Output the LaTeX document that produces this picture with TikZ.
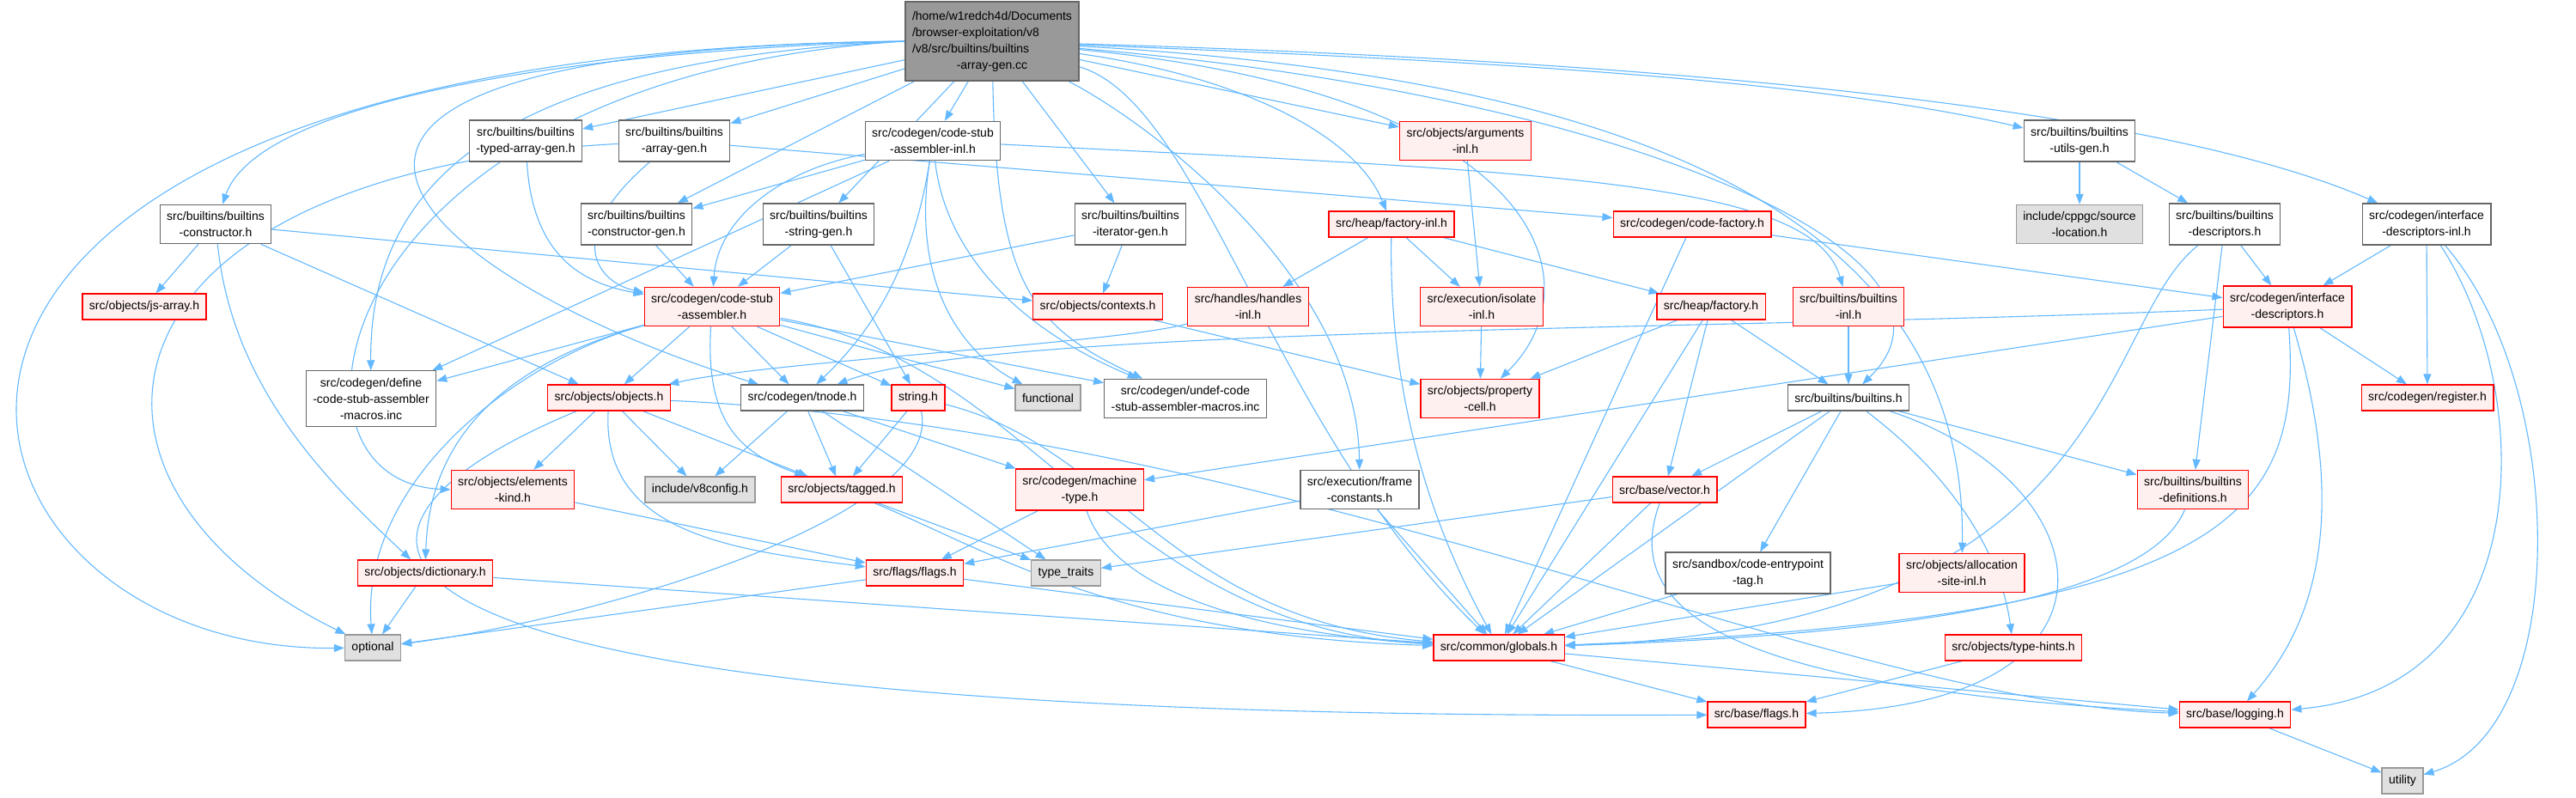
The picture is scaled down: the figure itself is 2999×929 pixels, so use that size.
\documentclass[tikz,border=0pt]{standalone}
\usepackage{fontspec}
\setsansfont{Liberation Sans}
\usetikzlibrary{arrows.meta}
\definecolor{incblue}{HTML}{63B8FF}
\definecolor{redfill}{HTML}{FFF0F0}
\pgfdeclarelayer{edges}
\pgfsetlayers{edges,main}
\begin{document}
\begin{tikzpicture}[x=1pt,y=1pt,>={Triangle[length=12pt,width=9pt]},every node/.style={font=\sffamily\fontsize{14}{19}\selectfont},hdr/.style={draw=black!60,fill=white,line width=1.2pt,inner xsep=8pt,inner ysep=8pt,minimum height=30pt,align=center},redhdr/.style={hdr,draw=red,fill=redfill},syshdr/.style={hdr,draw=black!40,fill=black!12},root/.style={hdr,draw=black!60,fill=black!40},inc/.style={->,draw=incblue,line width=1.1pt}]
\useasboundingbox (0,0) rectangle (2999,-929);
\node[root] (cc) at (1155,-48) {\begin{tabular}{@{}l@{}}/home/w1redch4d/Documents\\/browser-exploitation/v8\\/v8/src/builtins/builtins\\\multicolumn{1}{@{}c@{}}{-array-gen.cc}\end{tabular}};
% row 2
\node[hdr] (tag) at (612,-164) {src/builtins/builtins\\-typed-array-gen.h};\node[hdr] (ag) at (785,-164) {src/builtins/builtins\\-array-gen.h};\node[hdr] (csainl) at (1086,-164) {src/codegen/code-stub\\-assembler-inl.h};\node[redhdr] (args) at (1706,-164) {src/objects/arguments\\-inl.h};\node[hdr] (ug) at (2421,-164) {src/builtins/builtins\\-utils-gen.h};
% row 3
\node[hdr] (ctor) at (251,-261) {src/builtins/builtins\\-constructor.h};\node[hdr] (ctorgen) at (741,-261) {src/builtins/builtins\\-constructor-gen.h};\node[hdr] (sg) at (953,-261) {src/builtins/builtins\\-string-gen.h};\node[hdr] (ig) at (1316,-261) {src/builtins/builtins\\-iterator-gen.h};\node[redhdr] (finl) at (1620,-261) {src/heap/factory-inl.h};\node[redhdr] (cf) at (1970,-261) {src/codegen/code-factory.h};\node[syshdr] (srcloc) at (2421,-261) {include/cppgc/source\\-location.h};\node[hdr] (bdesc) at (2590,-261) {src/builtins/builtins\\-descriptors.h};\node[hdr] (idinl) at (2825,-261) {src/codegen/interface\\-descriptors-inl.h};
% row 4
\node[redhdr] (jsarr) at (168,-357) {src/objects/js-array.h};\node[redhdr] (csa) at (829,-357) {src/codegen/code-stub\\-assembler.h};\node[redhdr] (ctx) at (1278,-357) {src/objects/contexts.h};\node[redhdr] (hinl) at (1453,-357) {src/handles/handles\\-inl.h};\node[redhdr] (iinl) at (1725,-357) {src/execution/isolate\\-inl.h};\node[redhdr] (hf) at (1992,-357) {src/heap/factory.h};\node[redhdr] (binl) at (2152,-357) {src/builtins/builtins\\-inl.h};\node[redhdr] (idesc) at (2663,-357) {src/codegen/interface\\-descriptors.h};
% row 5
\node[hdr] (defm) at (432,-464) {src/codegen/define\\-code-stub-assembler\\-macros.inc};\node[redhdr] (obj) at (709,-463) {src/objects/objects.h};\node[hdr] (tnode) at (934,-463) {src/codegen/tnode.h};\node[redhdr] (str) at (1069,-463) {string.h};\node[syshdr] (func) at (1220,-463) {functional};\node[hdr] (undefm) at (1380,-464) {src/codegen/undef-code\\-stub-assembler-macros.inc};\node[redhdr] (pcell) at (1723,-464) {src/objects/property\\-cell.h};\node[hdr] (bh) at (2152,-463) {src/builtins/builtins.h};\node[redhdr] (reg) at (2826,-463) {src/codegen/register.h};
% row 6
\node[redhdr] (ek) at (597,-570) {src/objects/elements\\-kind.h};\node[syshdr] (v8c) at (815,-570) {include/v8config.h};\node[redhdr] (tagged) at (980,-570) {src/objects/tagged.h};\node[redhdr] (mt) at (1257,-570) {src/codegen/machine\\-type.h};\node[hdr] (fc) at (1583,-570) {src/execution/frame\\-constants.h};\node[redhdr] (vec) at (1938,-570) {src/base/vector.h};\node[redhdr] (bdef) at (2553,-570) {src/builtins/builtins\\-definitions.h};
% rows 7-10
\node[redhdr] (dict) at (495,-667) {src/objects/dictionary.h};\node[redhdr] (flags) at (1065,-667) {src/flags/flags.h};\node[syshdr] (tt) at (1241,-667) {type\_traits};\node[hdr] (cet) at (2035,-667) {src/sandbox/code-entrypoint\\-tag.h};\node[redhdr] (asi) at (2284,-667) {src/objects/allocation\\-site-inl.h};
\node[syshdr] (opt) at (434,-754) {optional};\node[redhdr] (glob) at (1745,-754) {src/common/globals.h};\node[redhdr] (ths) at (2344,-754) {src/objects/type-hints.h};
\node[redhdr] (bflags) at (2045,-832) {src/base/flags.h};\node[redhdr] (log) at (2602,-832) {src/base/logging.h};\node[syshdr] (util) at (2797,-909) {utility};
\begin{pgfonlayer}{edges}
% includes of the .cc file
\draw[inc] (cc) -- (tag);\draw[inc] (cc) -- (ag);\draw[inc] (cc) -- (csainl);\draw[inc] (cc) -- (args);\draw[inc] (cc) -- (ctorgen);\draw[inc] (cc) -- (sg);\draw[inc] (cc) -- (ig);
\draw[inc] (cc) .. controls (1700,-70) and (2100,-90) .. (ug);\draw[inc] (cc) .. controls (1900,-70) and (2500,-120) .. (idinl);\draw[inc] (cc) .. controls (1450,-90) and (1580,-160) .. (finl);
\draw[inc] (cc.west) .. controls (650,-60) and (300,-120) .. (ctor);\draw[inc] (cc.west) .. controls (600,-70) and (430,-200) .. (defm);\draw[inc] (cc.west) .. controls (-300,-60) and (-100,-760) .. (opt);
\draw[inc] (cc) .. controls (1160,-330) and (1200,-380) .. (undefm);\draw[inc] (cc.west) .. controls (150,-60) and (500,-330) .. (tnode);\draw[inc] (cc.west) .. controls (380,-90) and (300,-560) .. (ek.west);
\draw[inc] (cc) .. controls (1900,-110) and (2320,-300) .. (bh);\draw[inc] (cc) .. controls (1800,-110) and (1860,-330) .. (pcell);\draw[inc] (cc) .. controls (1900,-90) and (2290,-250) .. (asi);
\draw[inc] (cc) .. controls (1350,-150) and (1580,-330) .. (fc);\draw[inc] (cc) .. controls (1400,-120) and (1480,-500) .. (glob);
% builtins headers
\draw[inc] (tag) .. controls (620,-300) and (680,-330) .. (csa);\draw[inc] (ag) .. controls (650,-280) and (700,-330) .. (csa);\draw[inc] (ag) .. controls (100,-200) and (40,-560) .. (opt);\draw[inc] (ag) -- (cf);
\draw[inc] (ctor) -- (jsarr);\draw[inc] (ctor) .. controls (270,-450) and (380,-560) .. (dict);\draw[inc] (ctor) -- (obj);\draw[inc] (ctor) -- (ctx);
\draw[inc] (ctorgen) -- (csa);\draw[inc] (sg) -- (csa);\draw[inc] (sg) -- (str);\draw[inc] (ig) -- (csa);\draw[inc] (ig) -- (ctx);
\draw[inc] (csainl) .. controls (900,-200) and (835,-260) .. (csa);\draw[inc] (csainl) -- (ctorgen);\draw[inc] (csainl) -- (defm);\draw[inc] (csainl) .. controls (1100,-290) and (1180,-380) .. (undefm);
\draw[inc] (csainl) .. controls (1800,-200) and (2110,-210) .. (binl);\draw[inc] (csainl) .. controls (1060,-330) and (1120,-410) .. (func);\draw[inc] (csainl) .. controls (1060,-330) and (1000,-400) .. (tnode);
% code-stub-assembler.h and objects.h
\draw[inc] (csa) -- (defm);\draw[inc] (csa) -- (obj);\draw[inc] (csa) -- (tnode);\draw[inc] (csa) -- (str);\draw[inc] (csa) -- (func);\draw[inc] (csa) -- (undefm);
\draw[inc] (csa) .. controls (820,-500) and (870,-530) .. (tagged);\draw[inc] (csa) .. controls (600,-420) and (500,-500) .. (dict);\draw[inc] (csa) .. controls (600,-420) and (420,-560) .. (opt);\draw[inc] (csa) .. controls (1200,-420) and (1300,-730) .. (glob);
\draw[inc] (obj) -- (ek);\draw[inc] (obj) -- (v8c);\draw[inc] (obj) -- (tagged);\draw[inc] (obj) .. controls (700,-620) and (850,-640) .. (flags);
\draw[inc] (obj) .. controls (330,-620) and (300,-840) .. (bflags);\draw[inc] (obj) .. controls (1500,-500) and (2150,-820) .. (log);
\draw[inc] (tnode) -- (v8c);\draw[inc] (tnode) -- (tagged);\draw[inc] (tnode) -- (mt);\draw[inc] (tnode) -- (tt);
\draw[inc] (str) -- (tagged);\draw[inc] (str) .. controls (1100,-600) and (700,-720) .. (opt);\draw[inc] (str) .. controls (1300,-520) and (1360,-720) .. (glob);
\draw[inc] (tagged) -- (tt);\draw[inc] (tagged) .. controls (1150,-640) and (1300,-740) .. (glob);\draw[inc] (mt) -- (flags);\draw[inc] (mt) .. controls (1300,-700) and (1500,-740) .. (glob);\draw[inc] (ek) -- (flags);
\draw[inc] (dict) -- (opt);\draw[inc] (dict) -- (glob);\draw[inc] (flags) -- (opt);\draw[inc] (flags) -- (glob);\draw[inc] (fc) -- (flags);\draw[inc] (fc) -- (glob);
% heap, execution, handles
\draw[inc] (ctx) -- (pcell);\draw[inc] (hinl) .. controls (1300,-400) and (900,-420) .. (obj);\draw[inc] (iinl) -- (pcell);\draw[inc] (args) -- (iinl);
\draw[inc] (finl) -- (hinl);\draw[inc] (finl) -- (iinl);\draw[inc] (finl) -- (hf);\draw[inc] (finl) .. controls (1617,-450) and (1660,-600) .. (glob);
\draw[inc] (hf) -- (pcell);\draw[inc] (hf) -- (bh);\draw[inc] (hf) -- (vec);\draw[inc] (hf) -- (glob);\draw[inc] (cf) -- (idesc);\draw[inc] (cf) -- (glob);
\draw[inc] (vec) -- (tt);\draw[inc] (vec) -- (glob);\draw[inc] (vec) .. controls (1890,-700) and (1980,-800) .. (log);
% builtins.h and descriptors
\draw[inc] (binl) -- (bh);\draw[inc] (bh) -- (vec);\draw[inc] (bh) -- (cet);\draw[inc] (bh) -- (glob);\draw[inc] (bh) -- (bdef);
\draw[inc] (bh) .. controls (2280,-560) and (2330,-650) .. (ths);\draw[inc] (bh) .. controls (2450,-560) and (2500,-820) .. (bflags);
\draw[inc] (ug) -- (srcloc);\draw[inc] (ug) -- (bdesc);\draw[inc] (bdesc) -- (idesc);\draw[inc] (bdesc) -- (bdef);\draw[inc] (bdesc) .. controls (2440,-380) and (2470,-730) .. (glob);
\draw[inc] (idinl) -- (idesc);\draw[inc] (idinl) -- (reg);\draw[inc] (idinl) .. controls (2950,-450) and (2960,-800) .. (log);\draw[inc] (idinl) .. controls (2990,-450) and (2995,-850) .. (util);
\draw[inc] (idesc) -- (reg);\draw[inc] (idesc) .. controls (2000,-385) and (1150,-380) .. (tnode);\draw[inc] (idesc) -- (mt);
\draw[inc] (idesc) .. controls (2680,-600) and (2600,-720) .. (glob);\draw[inc] (idesc) .. controls (2720,-550) and (2720,-700) .. (log);
% bottom
\draw[inc] (asi) -- (glob);\draw[inc] (cet) -- (glob);\draw[inc] (bdef) .. controls (2500,-700) and (2200,-740) .. (glob);\draw[inc] (glob) -- (bflags);\draw[inc] (glob) -- (log);\draw[inc] (ths) -- (bflags);\draw[inc] (log) -- (util);
\end{pgfonlayer}
\end{tikzpicture}
\end{document}
